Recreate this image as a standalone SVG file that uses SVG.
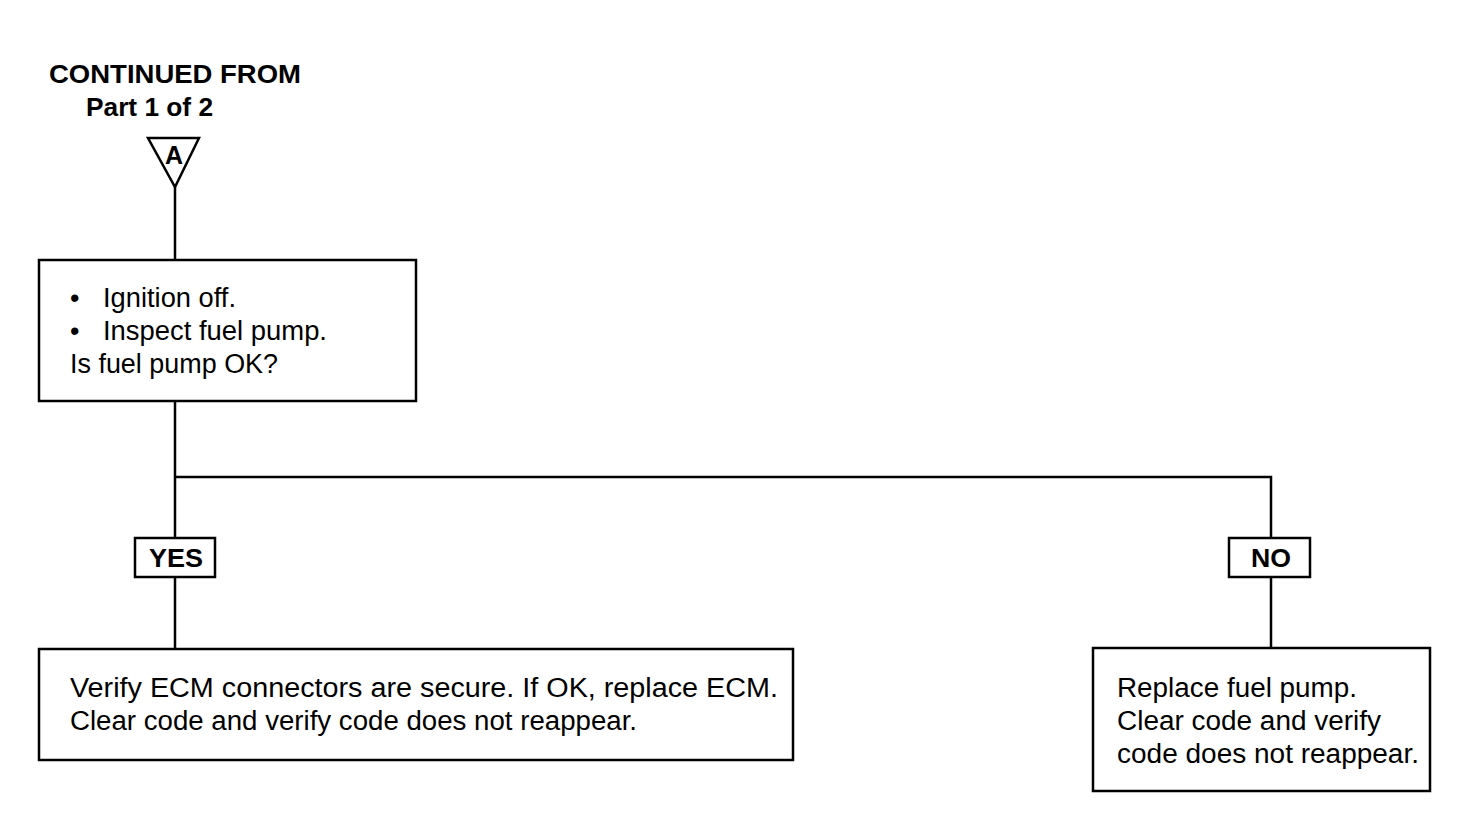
<svg xmlns="http://www.w3.org/2000/svg" width="1472" height="828" viewBox="0 0 1472 828">
<style>
.box{fill:#fff;stroke:#000;stroke-width:2.5}
.ln{fill:none;stroke:#000;stroke-width:2.5}
.t{font-family:"Liberation Sans",Arial,sans-serif;font-size:27px;fill:#000}
.b{font-family:"Liberation Sans",Arial,sans-serif;font-size:25px;font-weight:bold;fill:#000}
</style>
<rect width="1472" height="828" fill="#fff"/>
<g id="connectors">
<path class="ln" d="M175 187V260"/>
<path class="ln" d="M175 401V538"/>
<path class="ln" d="M175 477H1271V538"/>
<path class="ln" d="M175 577V649"/>
<path class="ln" d="M1271 577V648"/>
</g>
<g id="title">
<text class="b" x="49" y="83" textLength="252" lengthAdjust="spacingAndGlyphs">CONTINUED FROM</text>
<text class="b" x="86" y="116" textLength="127" lengthAdjust="spacingAndGlyphs">Part 1 of 2</text>
</g>
<g id="connectorA">
<path class="ln" d="M148 138H199L175 187Z"/>
<text class="b" x="174" y="164" text-anchor="middle" font-size="21">A</text>
</g>
<g id="check">
<rect class="box" x="39" y="260" width="377" height="141"/>
<text class="t" x="70" y="307">•</text>
<text class="t" x="103" y="307" textLength="133" lengthAdjust="spacingAndGlyphs">Ignition off.</text>
<text class="t" x="70" y="340">•</text>
<text class="t" x="103" y="340" textLength="224" lengthAdjust="spacingAndGlyphs">Inspect fuel pump.</text>
<text class="t" x="70" y="373" textLength="208" lengthAdjust="spacingAndGlyphs">Is fuel pump OK?</text>
</g>
<g id="yes">
<rect class="box" x="135" y="538" width="80" height="39"/>
<text class="b" x="176" y="567" text-anchor="middle" textLength="54" lengthAdjust="spacingAndGlyphs">YES</text>
</g>
<g id="no">
<rect class="box" x="1229" y="538" width="81" height="39"/>
<text class="b" x="1271" y="567" text-anchor="middle" textLength="40" lengthAdjust="spacingAndGlyphs">NO</text>
</g>
<g id="ecm">
<rect class="box" x="39" y="649" width="754" height="111"/>
<text class="t" x="70" y="697" textLength="708" lengthAdjust="spacingAndGlyphs">Verify ECM connectors are secure. If OK, replace ECM.</text>
<text class="t" x="70" y="730" textLength="567" lengthAdjust="spacingAndGlyphs">Clear code and verify code does not reappear.</text>
</g>
<g id="pump">
<rect class="box" x="1093" y="648" width="337" height="143"/>
<text class="t" x="1117" y="697" textLength="240" lengthAdjust="spacingAndGlyphs">Replace fuel pump.</text>
<text class="t" x="1117" y="730" textLength="264" lengthAdjust="spacingAndGlyphs">Clear code and verify</text>
<text class="t" x="1117" y="763" textLength="302" lengthAdjust="spacingAndGlyphs">code does not reappear.</text>
</g>
</svg>
